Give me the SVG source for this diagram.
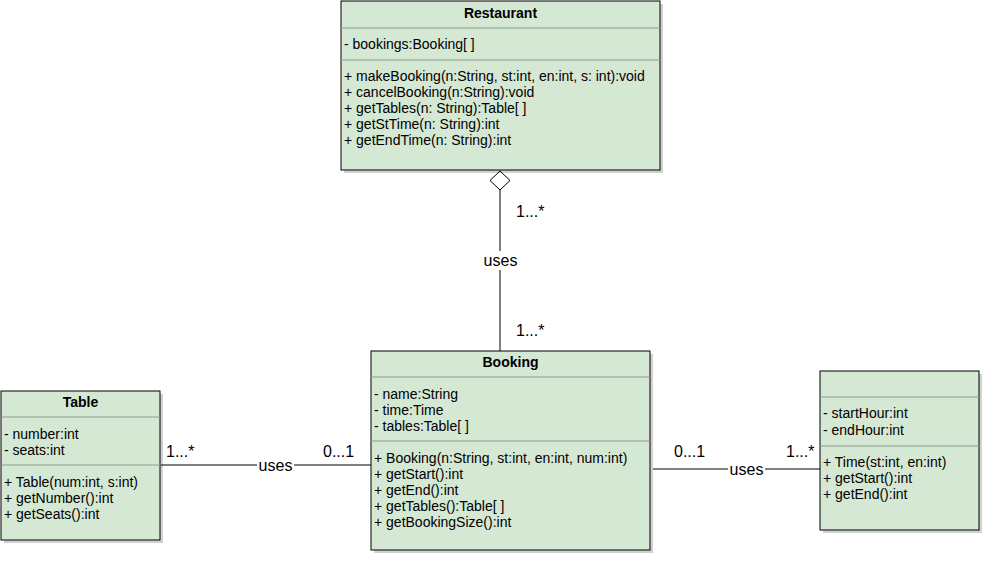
<svg xmlns="http://www.w3.org/2000/svg" width="992" height="562" viewBox="0 0 992 562">
<style>
.box{fill:#d5e8d4;stroke:#000;stroke-width:1}
.shadow{fill:#000;opacity:0.18}
.sep{stroke:#8a9a8a;stroke-width:1}
.t{font-family:"Liberation Sans",Arial,sans-serif;font-size:14px;fill:#000}
.title{font-weight:bold;text-anchor:middle}
.conn{stroke:#000;stroke-width:1;fill:none}
.lbl{font-family:"Liberation Sans",Arial,sans-serif;font-size:16px;fill:#000}
.mult{font-family:"Liberation Sans",Arial,sans-serif;font-size:16px;fill:#000}
.lblbg{fill:#fff}
</style>
<rect width="992" height="562" fill="#fff"/>

<g id="connectors">
  <line class="conn" x1="500" y1="190" x2="500" y2="351"/>
  <polygon points="500,171 510,180.5 500,190 490,180.5" fill="#fff" stroke="#000"/>
  <rect class="lblbg" x="482" y="251" width="37" height="19"/>
  <text class="lbl" x="500.5" y="266" text-anchor="middle">uses</text>
  <text class="mult" x="516" y="217">1...*</text>
  <text class="mult" x="516" y="336">1...*</text>

  <line class="conn" x1="161" y1="465" x2="371" y2="465"/>
  <rect class="lblbg" x="257" y="456" width="37" height="19"/>
  <text class="lbl" x="275.5" y="471" text-anchor="middle">uses</text>
  <text class="mult" x="166" y="457">1...*</text>
  <text class="mult" x="323" y="457">0...1</text>

  <line class="conn" x1="653" y1="469" x2="820" y2="469"/>
  <rect class="lblbg" x="728" y="460" width="37" height="19"/>
  <text class="lbl" x="746.5" y="475" text-anchor="middle">uses</text>
  <text class="mult" x="674" y="457">0...1</text>
  <text class="mult" x="786" y="457">1...*</text>
</g>

<g id="restaurant">
  <rect class="shadow" x="344" y="4" width="319" height="169"/>
  <rect class="box" x="341" y="1" width="319" height="169"/>
  <line class="sep" x1="341" y1="28" x2="660" y2="28"/>
  <line class="sep" x1="341" y1="60" x2="660" y2="60"/>
  <text class="t title" x="500.5" y="18">Restaurant</text>
  <text class="t" x="344" y="49">- bookings:Booking[ ]</text>
  <text class="t" x="344" y="81">+ makeBooking(n:String, st:int, en:int, s: int):void</text>
  <text class="t" x="344" y="97">+ cancelBooking(n:String):void</text>
  <text class="t" x="344" y="113">+ getTables(n: String):Table[ ]</text>
  <text class="t" x="344" y="129">+ getStTime(n: String):int</text>
  <text class="t" x="344" y="145">+ getEndTime(n: String):int</text>
</g>

<g id="booking">
  <rect class="shadow" x="374" y="354" width="279" height="199"/>
  <rect class="box" x="371" y="351" width="279" height="199"/>
  <line class="sep" x1="371" y1="377" x2="650" y2="377"/>
  <line class="sep" x1="371" y1="441" x2="650" y2="441"/>
  <text class="t title" x="510.5" y="367">Booking</text>
  <text class="t" x="374" y="399">- name:String</text>
  <text class="t" x="374" y="415">- time:Time</text>
  <text class="t" x="374" y="431">- tables:Table[ ]</text>
  <text class="t" x="374" y="463">+ Booking(n:String, st:int, en:int, num:int)</text>
  <text class="t" x="374" y="479">+ getStart():int</text>
  <text class="t" x="374" y="495">+ getEnd():int</text>
  <text class="t" x="374" y="511">+ getTables():Table[ ]</text>
  <text class="t" x="374" y="527">+ getBookingSize():int</text>
</g>

<g id="table">
  <rect class="shadow" x="4" y="394" width="159" height="149"/>
  <rect class="box" x="1" y="391" width="159" height="149"/>
  <line class="sep" x1="1" y1="417" x2="160" y2="417"/>
  <line class="sep" x1="1" y1="465" x2="160" y2="465"/>
  <text class="t title" x="80.5" y="407">Table</text>
  <text class="t" x="4" y="439">- number:int</text>
  <text class="t" x="4" y="455">- seats:int</text>
  <text class="t" x="4" y="487">+ Table(num:int, s:int)</text>
  <text class="t" x="4" y="503">+ getNumber():int</text>
  <text class="t" x="4" y="519">+ getSeats():int</text>
</g>

<g id="time">
  <rect class="shadow" x="823" y="374" width="159" height="159"/>
  <rect class="box" x="820" y="371" width="159" height="159"/>
  <line class="sep" x1="820" y1="397" x2="979" y2="397"/>
  <line class="sep" x1="820" y1="446" x2="979" y2="446"/>
  <text class="t" x="823" y="418">- startHour:int</text>
  <text class="t" x="823" y="435">- endHour:int</text>
  <text class="t" x="823" y="467">+ Time(st:int, en:int)</text>
  <text class="t" x="823" y="483">+ getStart():int</text>
  <text class="t" x="823" y="499">+ getEnd():int</text>
</g>
</svg>
